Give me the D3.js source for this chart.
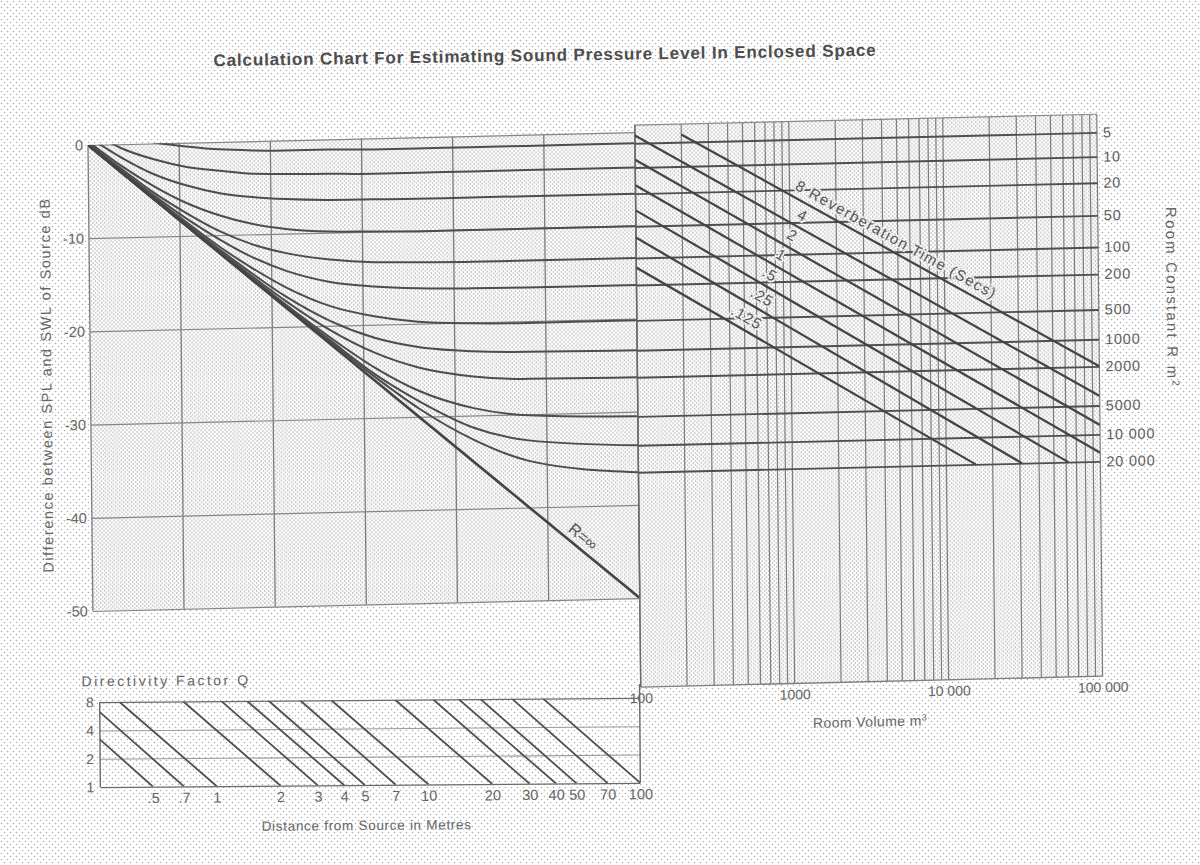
<!DOCTYPE html>
<html>
<head>
<meta charset="utf-8">
<script src="https://cdn.jsdelivr.net/npm/d3@7"></script>
<style>
  body { margin: 0; background: #fff; }
  svg { display: block; }
  text { font-family: "Liberation Sans", Arial, sans-serif; fill: #5a5a5a; }
</style>
</head>
<body>
<svg id="chart" width="1200" height="865"></svg>
<script>
// ---- data ----
const dbTicks = [0, -10, -20, -30, -40, -50];
const mainGridU = [0, 8.33, 16.67, 25, 33.33, 41.67, 50];

// x samples along the main panel (dB of direct field below 0)
const directU = [0, 3, 6, 9, 12, 15, 18, 22, 26, 30, 35, 40, 50];
const levelR5     = [2.6, 1.0, 0.1, -0.4, -0.8, -1.0, -1.1, -1.1, -1.2, -1.2, -1.2, -1.2, -1.2];
const levelR10    = [1.6, -0.4, -1.7, -2.6, -3.1, -3.5, -3.6, -3.7, -3.8, -3.8, -3.8, -3.8, -3.8];
const levelR20    = [0.9, -1.4, -3.3, -4.6, -5.5, -6.0, -6.3, -6.5, -6.55, -6.6, -6.6, -6.6, -6.6];
const levelR50    = [0.4, -2.3, -4.6, -6.5, -7.9, -8.9, -9.5, -9.9, -10.0, -10.1, -10.1, -10.1, -10.1];
const levelR100   = [0.2, -2.6, -5.3, -7.6, -9.6, -11.1, -12.1, -12.9, -13.3, -13.4, -13.5, -13.5, -13.5];
const levelR200   = [0.1, -2.8, -5.6, -8.2, -10.5, -12.5, -14.0, -15.3, -15.9, -16.2, -16.35, -16.4, -16.4];
const levelR500   = [0, -2.9, -5.8, -8.6, -11.3, -13.7, -15.8, -17.9, -19.1, -19.8, -20.1, -20.2, -20.2];
const levelR1000  = [0, -3.0, -5.9, -8.8, -11.6, -14.3, -16.8, -19.5, -21.4, -22.5, -23.1, -23.3, -23.4];
const levelR2000  = [0, -3.0, -6.0, -8.9, -11.8, -14.6, -17.3, -20.5, -23.0, -24.7, -25.8, -26.2, -26.3];
const levelR5000  = [0, -3.0, -6.0, -9.0, -11.9, -14.8, -17.7, -21.3, -24.6, -27.2, -29.2, -30.1, -30.5];
const levelR10000 = [0, -3.0, -6.0, -9.0, -12.0, -14.95, -17.85, -21.6, -25.3, -28.3, -31.3, -32.8, -33.6];
const levelR20000 = [0, -3.0, -6.0, -9.0, -12.0, -15.0, -17.95, -21.8, -25.6, -29.1, -32.6, -35.0, -36.5];
const infinityU = [0, 50];
const infinityDb = [0, -50];

const roomConst = [5, 10, 20, 50, 100, 200, 500, 1000, 2000, 5000, 10000, 20000];
const roomConstDb = [-1.2, -3.8, -6.6, -10.1, -13.5, -16.4, -20.2, -23.4, -26.3, -30.5, -33.6, -36.5];
const roomConstLabels = ["5", "10", "20", "50", "100", "200", "500", "1000", "2000", "5000", "10 000", "20 000"];

const volumeGrid = [100, 200, 300, 400, 500, 600, 700, 800, 900,
  1000, 2000, 3000, 4000, 5000, 6000, 7000, 8000, 9000,
  10000, 20000, 30000, 40000, 50000, 60000, 70000, 80000, 90000, 100000];
const volumeTicks = [100, 1000, 10000, 100000];
const volumeTickLabels = ["100", "1000", "10 000", "100 000"];

const reverbLabels = ["8 Reverberation Time (Secs)", "4", "2", "1", ".5", ".25", ".125"];
const reverbStartV = [200, 100, 100, 100, 100, 100, 100];
const reverbStartR = [4, 4, 8, 16, 32, 64, 128];
const reverbEndV = [100000, 100000, 100000, 100000, 62000, 31000, 15500];
const reverbEndR = [2000, 4000, 8000, 16000, 20000, 20000, 20000];
const reverbLabelV = [1020, 1040, 890, 750, 610, 510, 380];

const distTicks = [0.5, 0.7, 1, 2, 3, 4, 5, 7, 10, 20, 30, 40, 50, 70, 100];
const distLabels = [".5", ".7", "1", "2", "3", "4", "5", "7", "10", "20", "30", "40", "50", "70", "100"];
const qLineTop = [0.18, 0.25, 0.35, 0.7, 1.06, 1.4, 1.77, 2.5, 3.5, 7, 10.6, 14, 17.7, 25, 35];
const qTicks = [1, 2, 4, 8];

// ---- layout ----
const svg = d3.select("#chart");
const defs = svg.append("defs");

function dotPattern(id, step, r, color) {
  const p = defs.append("pattern").attr("id", id)
    .attr("width", step).attr("height", step)
    .attr("patternUnits", "userSpaceOnUse");
  p.append("rect").attr("width", step).attr("height", step).attr("fill", "#fff");
  p.append("circle").attr("cx", step / 4).attr("cy", step / 4).attr("r", r).attr("fill", color);
  p.append("circle").attr("cx", step * 3 / 4).attr("cy", step * 3 / 4).attr("r", r).attr("fill", color);
}
dotPattern("paper", 6, 0.8, "#b0b0b0");
dotPattern("panel", 4, 0.8, "#a6a6a6");

svg.append("rect").attr("width", 1200).attr("height", 865).attr("fill", "url(#paper)");

// the scanned sheet is slightly skewed: lines rise to the right
const g = svg.append("g")
  .attr("transform", "rotate(-0.6 600 430) translate(600,430) skewY(-0.75) translate(-600,-430)");
const gb = svg.append("g").attr("transform", "rotate(-0.45 370 742)");
const gt = svg.append("g").attr("transform", "rotate(-0.9 545 56)");

const x = d3.scaleLinear().domain([0, 50]).range([91, 638]);
const y = d3.scaleLinear().domain([0, -50]).range([133, 599]);
const yR = d3.scaleLog().domain(roomConst).range(roomConstDb.map(d => y(d)));
const xV = d3.scaleLog().domain([100, 100000]).range([638, 1100]);
const xD = d3.scaleLog().domain([0.282, 100]).range([100, 640]);
const yQ = d3.scaleLog().base(2).domain([1, 8]).range([785, 700]);

const rightTop = 126, rightBottom = 688;
const dLeft = 0.282;

// clip paths
defs.append("clipPath").attr("id", "clipMain").append("rect")
  .attr("x", x(0)).attr("y", y(0)).attr("width", x(50) - x(0)).attr("height", y(-50) - y(0));
defs.append("clipPath").attr("id", "clipRight").append("rect")
  .attr("x", xV(100)).attr("y", y(0) - 1).attr("width", xV(100000) - xV(100)).attr("height", yR(20000) - y(0) + 2);
defs.append("clipPath").attr("id", "clipQ").append("rect")
  .attr("x", xD(dLeft)).attr("y", yQ(8)).attr("width", xD(100) - xD(dLeft)).attr("height", yQ(1) - yQ(8));

// panel backgrounds
g.append("rect").attr("x", x(0)).attr("y", y(0)).attr("width", x(50) - x(0)).attr("height", y(-50) - y(0))
  .attr("fill", "url(#panel)");
g.append("rect").attr("x", xV(100)).attr("y", rightTop).attr("width", xV(100000) - xV(100)).attr("height", rightBottom - rightTop)
  .attr("fill", "url(#panel)");

// title
gt.append("text").attr("x", 545).attr("y", 61).attr("text-anchor", "middle")
  .style("font-size", "17px").style("font-weight", "bold").style("letter-spacing", "0.85px").style("fill", "#4d4d4d")
  .text("Calculation Chart For Estimating Sound Pressure Level  In Enclosed Space");

// ---- main panel ----
g.append("g").selectAll("line").data(mainGridU).enter().append("line")
  .attr("x1", d => x(d)).attr("x2", d => x(d))
  .attr("y1", y(0)).attr("y2", y(-50))
  .attr("stroke", "#7d7d7d").attr("stroke-width", 1.3);

const yAxis = g.append("g").attr("transform", `translate(${x(0)},0)`)
  .call(d3.axisLeft(y).tickValues(dbTicks).tickSizeInner(-(x(50) - x(0))).tickSizeOuter(0)
    .tickPadding(5).tickFormat(d => String(d)));
yAxis.select(".domain").remove();
yAxis.selectAll(".tick line").attr("stroke", "#858585").attr("stroke-width", 1.2);
yAxis.selectAll(".tick text").style("font-size", "14.5px").style("fill", "#666");

g.append("text").attr("transform", "translate(52,372) rotate(-90)").attr("text-anchor", "middle")
  .style("font-size", "14.5px").style("letter-spacing", "1.6px").style("fill", "#666")
  .text("Difference between SPL and SWL of Source dB");

const curveLevels = [levelR5, levelR10, levelR20, levelR50, levelR100, levelR200,
  levelR500, levelR1000, levelR2000, levelR5000, levelR10000, levelR20000];
const curveLine = d3.line().x((d, i) => x(directU[i])).y(d => y(d)).curve(d3.curveMonotoneX);

const curves = g.append("g").attr("clip-path", "url(#clipMain)");
curves.selectAll("path.curve").data(curveLevels).enter().append("path")
  .attr("class", "curve").attr("d", curveLine)
  .attr("fill", "none").attr("stroke", "#4d4d4d").attr("stroke-width", 2);

const infLine = d3.line().x((d, i) => x(infinityU[i])).y(d => y(d));
curves.append("path").datum(infinityDb).attr("d", infLine)
  .attr("fill", "none").attr("stroke", "#444").attr("stroke-width", 2.6);

const infRad = Math.atan2(y(-50) - y(0), x(50) - x(0));
const infPx = x(44.2), infPy = y(-44.2);
g.append("text")
  .attr("transform", `translate(${infPx + Math.sin(infRad) * 6},${infPy - Math.cos(infRad) * 6}) rotate(${infRad * 180 / Math.PI})`)
  .attr("text-anchor", "middle")
  .style("font-size", "16px").style("fill", "#555")
  .style("stroke", "url(#panel)").style("stroke-width", 4).style("paint-order", "stroke")
  .text("R=\u221e");

// ---- right panel ----
g.append("g").selectAll("line").data(volumeGrid).enter().append("line")
  .attr("x1", d => xV(d)).attr("x2", d => xV(d))
  .attr("y1", rightTop).attr("y2", rightBottom)
  .attr("stroke", "#7d7d7d").attr("stroke-width", 1.2);

g.append("line").attr("x1", xV(100)).attr("x2", xV(100000)).attr("y1", rightTop).attr("y2", rightTop)
  .attr("stroke", "#8a8a8a").attr("stroke-width", 1.1);
g.append("line").attr("x1", xV(100)).attr("x2", xV(100000)).attr("y1", rightBottom).attr("y2", rightBottom)
  .attr("stroke", "#7d7d7d").attr("stroke-width", 1.3);
g.append("line").attr("x1", xV(100)).attr("x2", xV(100)).attr("y1", rightTop).attr("y2", rightBottom)
  .attr("stroke", "#6a6a6a").attr("stroke-width", 1.4);

const rAxis = g.append("g").attr("transform", `translate(${xV(100000)},0)`)
  .call(d3.axisRight(yR).tickValues(roomConst).tickSizeInner(-(xV(100000) - xV(100))).tickSizeOuter(0)
    .tickPadding(6).tickFormat((d, i) => roomConstLabels[i]));
rAxis.select(".domain").remove();
rAxis.selectAll(".tick line").attr("stroke", "#4f4f4f").attr("stroke-width", 1.9);
rAxis.selectAll(".tick text").style("font-size", "14.5px").style("letter-spacing", "0.8px").style("fill", "#5f5f5f");

g.append("text").attr("transform", "translate(1168,311) rotate(90)").attr("text-anchor", "middle")
  .style("font-size", "15px").style("letter-spacing", "2.2px").style("fill", "#666")
  .text("Room Constant R m")
  .append("tspan").attr("baseline-shift", "super").style("font-size", "10px").text("2");

const reverbIdx = d3.range(reverbLabels.length);
const reverb = g.append("g").attr("clip-path", "url(#clipRight)");
reverb.selectAll("line").data(reverbIdx).enter().append("line")
  .attr("x1", i => xV(reverbStartV[i])).attr("y1", i => yR(reverbStartR[i]))
  .attr("x2", i => xV(reverbEndV[i])).attr("y2", i => yR(reverbEndR[i]))
  .attr("stroke", "#444").attr("stroke-width", 2.2);

reverbIdx.forEach(i => {
  const x1 = xV(reverbStartV[i]), y1 = yR(reverbStartR[i]);
  const x2 = xV(reverbEndV[i]), y2 = yR(reverbEndR[i]);
  const ang = Math.atan2(y2 - y1, x2 - x1);
  const px = xV(reverbLabelV[i]);
  const py = y1 + (px - x1) * (y2 - y1) / (x2 - x1);
  const ox = Math.sin(ang) * 7, oy = -Math.cos(ang) * 7;
  g.append("text")
    .attr("transform", `translate(${px + ox},${py + oy}) rotate(${ang * 180 / Math.PI})`)
    .style("font-size", "15px").style("letter-spacing", i === 0 ? "1.4px" : "1px").style("fill", "#555")
    .style("stroke", "url(#panel)").style("stroke-width", 4).style("paint-order", "stroke")
    .text(reverbLabels[i]);
});

const vAxis = g.append("g").attr("transform", `translate(0,${rightBottom + 6})`)
  .call(d3.axisBottom(xV).tickValues(volumeTicks).tickSize(0).tickPadding(0)
    .tickFormat((d, i) => volumeTickLabels[i]));
vAxis.select(".domain").remove();
vAxis.selectAll(".tick text").style("font-size", "14px").style("fill", "#666");

g.append("text").attr("x", 867).attr("y", 733).attr("text-anchor", "middle")
  .style("font-size", "14px").style("letter-spacing", "0.4px").style("fill", "#666")
  .text("Room Volume m")
  .append("tspan").attr("baseline-shift", "super").style("font-size", "9px").text("3");

// ---- directivity / distance panel ----
const qAxis = gb.append("g").attr("transform", `translate(${xD(dLeft)},0)`)
  .call(d3.axisLeft(yQ).tickValues(qTicks).tickSizeInner(-(xD(100) - xD(dLeft))).tickSizeOuter(0)
    .tickPadding(6).tickFormat(d => String(d)));
qAxis.select(".domain").remove();
qAxis.selectAll(".tick line").attr("stroke", d => (d === 1 || d === 8) ? "#6a6a6a" : "#9a9a9a")
  .attr("stroke-width", d => (d === 1 || d === 8) ? 1.4 : 1.1);
qAxis.selectAll(".tick text").style("font-size", "14px").style("fill", "#666");

gb.append("line").attr("x1", xD(dLeft)).attr("x2", xD(dLeft)).attr("y1", yQ(8)).attr("y2", yQ(1))
  .attr("stroke", "#6a6a6a").attr("stroke-width", 1.4);
gb.append("line").attr("x1", xD(100)).attr("x2", xD(100)).attr("y1", rightBottom - 2).attr("y2", yQ(1))
  .attr("stroke", "#6a6a6a").attr("stroke-width", 1.4);

const qLines = gb.append("g").attr("clip-path", "url(#clipQ)");
qLines.selectAll("line").data(distTicks).enter().append("line")
  .attr("x1", (d, i) => xD(qLineTop[i])).attr("y1", yQ(8))
  .attr("x2", d => xD(d)).attr("y2", yQ(1))
  .attr("stroke", "#505050").attr("stroke-width", 1.8);

const dAxis = gb.append("g").attr("transform", `translate(0,${yQ(1) + 4})`)
  .call(d3.axisBottom(xD).tickValues(distTicks).tickSize(0).tickPadding(2)
    .tickFormat((d, i) => distLabels[i]));
dAxis.select(".domain").remove();
dAxis.selectAll(".tick text").style("font-size", "14.5px").style("fill", "#666");

gb.append("text").attr("x", 82).attr("y", 684)
  .style("font-size", "14px").style("letter-spacing", "2.5px").style("fill", "#666")
  .text("Directivity Factor Q");

gb.append("text").attr("x", 366).attr("y", 830).attr("text-anchor", "middle")
  .style("font-size", "13.5px").style("letter-spacing", "0.7px").style("fill", "#666")
  .text("Distance from Source in Metres");
</script>
</body>
</html>
